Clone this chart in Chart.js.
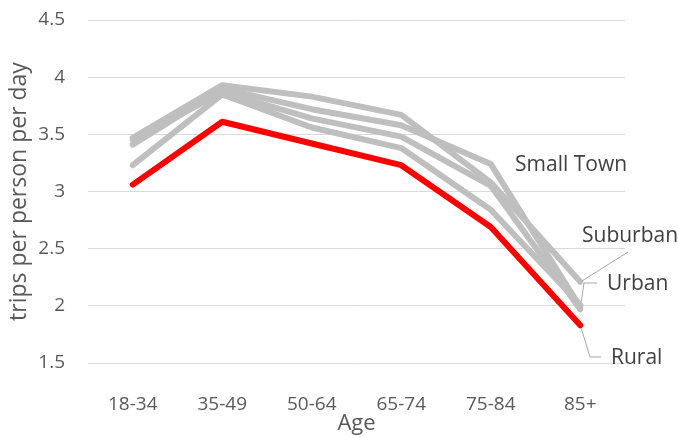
<!DOCTYPE html>
<html>
<head>
<meta charset="utf-8">
<script src="https://cdn.jsdelivr.net/npm/chart.js@4/dist/chart.umd.min.js"></script>
<style>
  html, body { margin: 0; padding: 0; background: #ffffff; }
  #wrap { width: 678px; height: 437px; }
</style>
</head>
<body>
<div id="wrap"><canvas id="c" width="678" height="437"></canvas></div>
<script>
const ageGroups = ["18-34", "35-49", "50-64", "65-74", "75-84", "85+"];
const rural      = [3.06, 3.61, 3.42, 3.23, 2.69, 1.83];
const smallTown  = [3.41, 3.90, 3.72, 3.58, 3.24, 1.99];
const suburban   = [3.47, 3.93, 3.83, 3.67, 3.08, 2.21];
const secondCity = [3.45, 3.87, 3.64, 3.48, 3.05, 1.97];
const urban      = [3.23, 3.85, 3.56, 3.38, 2.84, 2.01];
const yTicks = [1.5, 2, 2.5, 3, 3.5, 4, 4.5];

const FONT = "'Open Sans', sans-serif";
const GRAY = "#bfbfbf";

const labelsPlugin = {
  id: "endLabels",
  afterDatasetsDraw(chart) {
    const ctx = chart.ctx;
    const x = chart.scales.x, y = chart.scales.y;
    const last = ageGroups.length - 1;
    const px = x.getPixelForValue(last);
    const pSub = y.getPixelForValue(suburban[last]);
    const pUrb = y.getPixelForValue(urban[last]);
    const pRur = y.getPixelForValue(rural[last]);
    ctx.save();
    ctx.strokeStyle = "#a6a6a6";
    ctx.lineWidth = 1;
    ctx.beginPath();
    ctx.moveTo(px + 2, pSub - 1); ctx.lineTo(628, 252);
    ctx.moveTo(px + 1, pUrb - 3); ctx.lineTo(584, 283); ctx.lineTo(597, 283);
    ctx.moveTo(px + 1, pRur + 3); ctx.lineTo(590, 357); ctx.lineTo(601, 357);
    ctx.stroke();
    ctx.fillStyle = "#404040";
    ctx.font = "21px " + FONT;
    ctx.textBaseline = "middle";
    ctx.textAlign = "left";
    ctx.fillText("Small Town", 515, 165);
    ctx.fillText("Suburban", 582, 236);
    ctx.fillText("Urban", 607, 284);
    ctx.fillText("Rural", 611, 358);
    ctx.restore();
  }
};

function ds(label, data, color) {
  return {
    label, data,
    borderColor: color, backgroundColor: color,
    borderWidth: 6, pointRadius: 0, pointHoverRadius: 0,
    borderCapStyle: "round", borderJoinStyle: "round",
    tension: 0, fill: false
  };
}

new Chart(document.getElementById("c"), {
  type: "line",
  data: {
    labels: ageGroups,
    datasets: [
      ds("Rural", rural, "#ff0000"),
      ds("Small Town", smallTown, GRAY),
      ds("Suburban", suburban, GRAY),
      ds("Second City", secondCity, GRAY),
      ds("Urban", urban, GRAY)
    ]
  },
  options: {
    responsive: false,
    animation: false,
    events: [],
    layout: { padding: { left: 0, right: 53, top: 20, bottom: 0 } },
    plugins: { legend: { display: false }, tooltip: { enabled: false } },
    scales: {
      x: {
        offset: true,
        grid: { display: false, drawTicks: false },
        border: { display: false },
        ticks: { color: "#595959", font: { family: FONT, size: 19 }, padding: 30, maxRotation: 0 },
        title: { display: true, text: "Age", color: "#595959", font: { family: FONT, size: 22 }, padding: { top: 0, bottom: 0 } },
        afterFit(s) { s.height = 74; s.paddingLeft = 0; s.paddingRight = 0; }
      },
      y: {
        min: 1.5, max: 4.5,
        afterBuildTicks(s) { s.ticks = yTicks.map(v => ({ value: v })); },
        grid: { color: "#d9d9d9", lineWidth: 1, drawTicks: false },
        border: { display: false },
        ticks: { color: "#595959", font: { family: FONT, size: 19 }, padding: 23, callback: v => String(v) },
        title: { display: true, text: "trips per person per day", color: "#595959", font: { family: FONT, size: 23 }, padding: { top: 6, bottom: 0 } },
        afterFit(s) { s.width = 88; s.paddingTop = 0; s.paddingBottom = 0; }
      }
    }
  },
  plugins: [labelsPlugin]
});
</script>
</body>
</html>
